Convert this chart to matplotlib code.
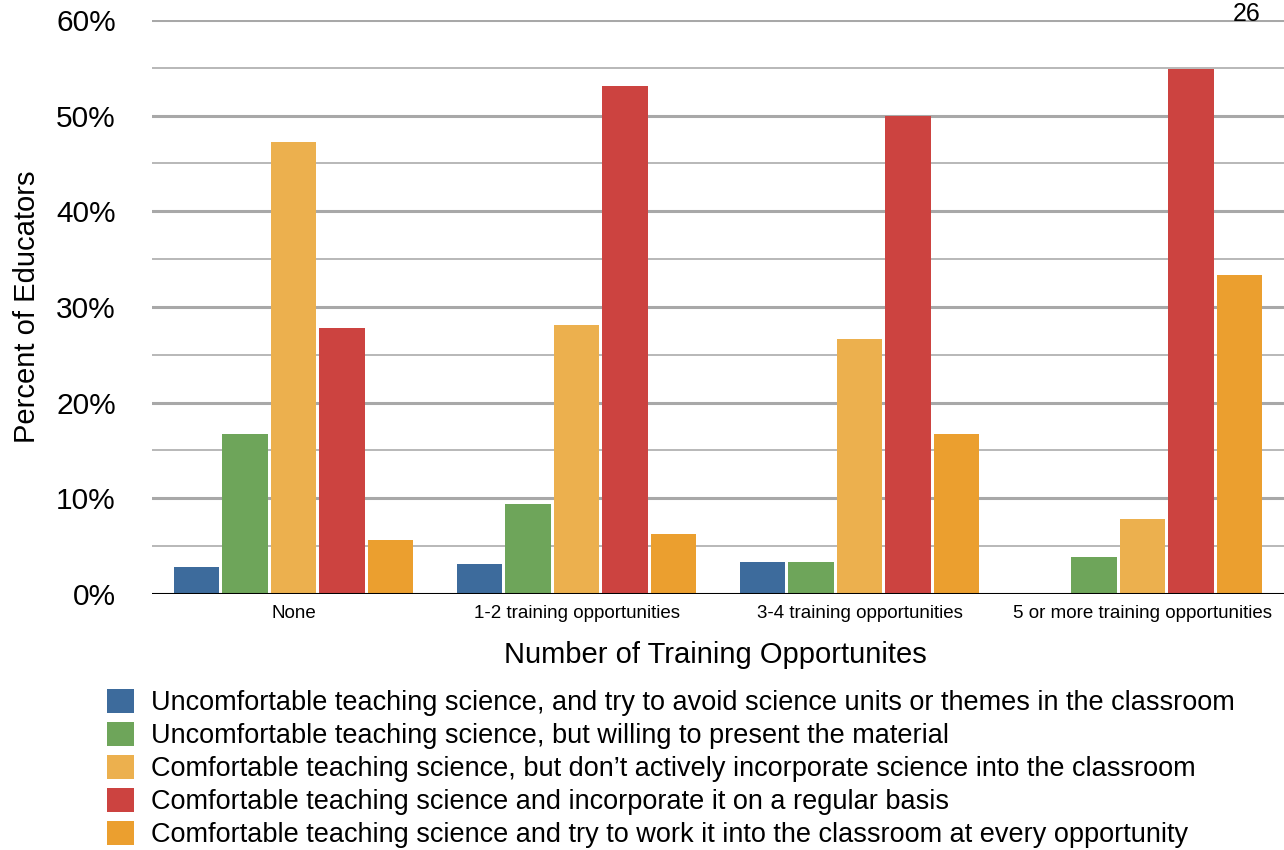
import matplotlib.pyplot as plt
import numpy as np

plt.rcParams['font.family'] = ['Liberation Sans', 'DejaVu Sans']

groups = ["None", "1-2 training opportunities", "3-4 training opportunities",
          "5 or more training opportunities"]
series = [
    "Uncomfortable teaching science, and try to avoid science units or themes in the classroom",
    "Uncomfortable teaching science, but willing to present the material",
    "Comfortable teaching science, but don\u2019t actively incorporate science into the classroom",
    "Comfortable teaching science and incorporate it on a regular basis",
    "Comfortable teaching science and try to work it into the classroom at every opportunity",
]
avoid = [2.8, 3.1, 3.3, 0.0]
willing = [16.7, 9.4, 3.3, 3.9]
not_active = [47.2, 28.1, 26.7, 7.8]
regular = [27.8, 53.1, 50.0, 54.9]
every = [5.6, 6.3, 16.7, 33.3]
colors = ["#3d6b9c", "#6ea55a", "#ecb04e", "#cc4340", "#eb9f2f"]

values = [avoid, willing, not_active, regular, every]


def draw() -> None:
    fig = plt.figure(figsize=(12.84, 8.5), dpi=100)
    ax = fig.add_axes([0.1184, 0.3012, 0.8816, 0.6753])

    x = np.arange(len(groups))
    step = 0.171
    width = 0.160
    handles = []
    for i, vals in enumerate(values):
        b = ax.bar(x + (i - 2) * step, vals, width, color=colors[i],
                   label=series[i], zorder=3)
        handles.append(b)

    ax.set_xlim(-0.5, 3.5)
    ax.set_ylim(0, 60)
    ax.set_yticks(range(0, 61, 10))
    ax.set_yticklabels([f"{v}%" for v in range(0, 61, 10)], fontsize=21.5)
    for v in range(0, 61, 10):
        ax.axhline(v, color="#a8a8a8", lw=2.2, zorder=1)
    for v in range(5, 60, 10):
        ax.axhline(v, color="#b8b8b8", lw=1.4, zorder=1)
    ax.axhline(0, color="black", lw=2.2, zorder=4)

    ax.set_xticks(x)
    ax.set_xticklabels(groups, fontsize=13.5)
    ax.tick_params(axis="both", length=0)
    ax.tick_params(axis="x", pad=8)
    ax.tick_params(axis="y", pad=26)
    for s in ax.spines.values():
        s.set_visible(False)

    ax.set_xlabel("Number of Training Opportunites", fontsize=21)
    ax.xaxis.set_label_coords(0.498, -0.082)
    ax.set_ylabel("Percent of Educators", fontsize=21)
    ax.yaxis.set_label_coords(-0.098, 0.5)

    fig.legend(handles=handles, labels=series, loc="upper left",
               bbox_to_anchor=(0.083, 0.190), frameon=False, fontsize=19.5,
               handlelength=1.0, handleheight=1.0, handletextpad=0.64,
               labelspacing=0.21, borderpad=0, borderaxespad=0)

    fig.text(0.982, 0.998, "26", fontsize=18, ha="right", va="top")

    fig.savefig("out.png", dpi=100)


draw()
